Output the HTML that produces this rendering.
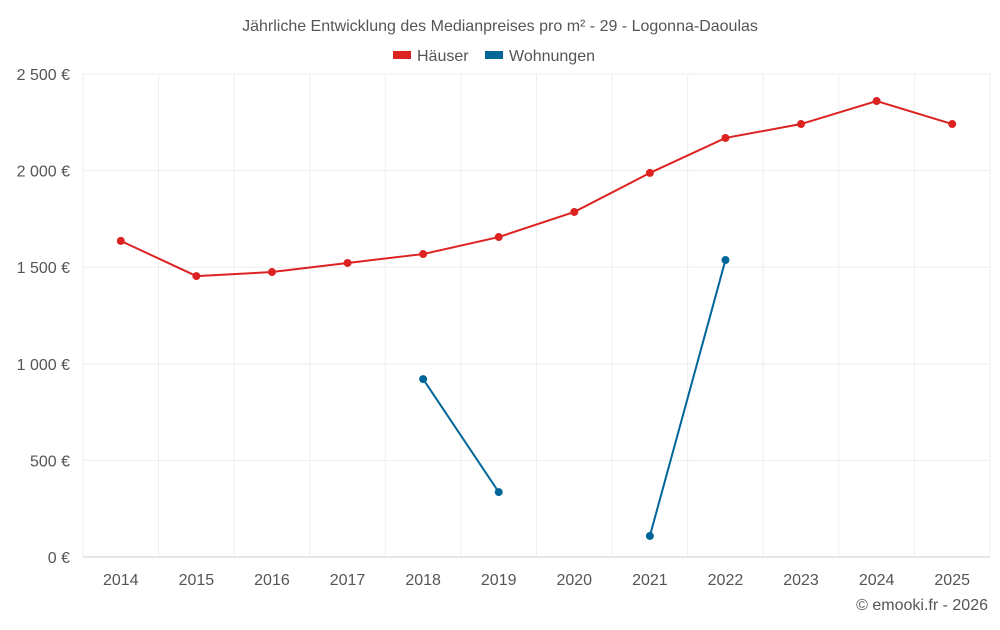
<!DOCTYPE html>
<html><head><meta charset="utf-8"><style>
body{margin:0;background:#fff;font-family:"Liberation Sans",sans-serif}
svg text{font-family:"Liberation Sans",sans-serif;fill:#555}
</style></head><body>
<svg id="c" width="1000" height="625">
<text x="500" y="31" text-anchor="middle" font-size="16">Jährliche Entwicklung des Medianpreises pro m² - 29 - Logonna-Daoulas</text>
<g><rect x="393" y="51" width="18" height="8" fill="#dd2222"/><text x="417" y="61" font-size="16">Häuser</text></g>
<g><rect x="485" y="51" width="18" height="8" fill="#006699"/><text x="509" y="61" font-size="16">Wohnungen</text></g>
<g id="grid"></g><g id="axes"></g><g id="series"></g>
<text x="988" y="610" text-anchor="end" font-size="16">© emooki.fr - 2026</text>
</svg>
<script>
const years=[2014,2015,2016,2017,2018,2019,2020,2021,2022,2023,2024,2025];
const haeuser=[1636,1454,1475,1522,1568,1656,1786,1988,2169,2241,2360,2241];
const wohnungen=[null,null,null,null,921,336,null,109,1537,null,null,null];
const yTicks=[0,500,1000,1500,2000,2500];
const yLabels=["0 €","500 €","1 000 €","1 500 €","2 000 €","2 500 €"];
const L=83,R=990,T=74,B=557,ns="http://www.w3.org/2000/svg";
const bw=(R-L)/years.length;
const x=i=>L+bw*(i+0.5), y=v=>B-(v/2500)*(B-T);
function mk(t,a,p){const e=document.createElementNS(ns,t);for(const k in a)e.setAttribute(k,a[k]);p.appendChild(e);return e;}
const g=document.getElementById('grid'),ax=document.getElementById('axes'),s=document.getElementById('series');
yTicks.forEach((v,i)=>{const l=mk('line',{x1:L,x2:R,y1:y(v),y2:y(v),stroke:i==0?'#ccc':'#eee'},g);


const t=mk('text',{x:70,y:y(v)+6,'text-anchor':'end','font-size':16},ax);t.textContent=yLabels[i];

});
for(let i=0;i<=years.length;i++){const l=mk('line',{x1:L+bw*i,x2:L+bw*i,y1:T,y2:B+(i>0?0:0),stroke:'#eee'},g);

}
years.forEach((yr,i)=>{const t=mk('text',{x:x(i),y:585,'text-anchor':'middle','font-size':16},ax);t.textContent=yr;

});
function draw(data,col,name){let seg=[];const segs=[];data.forEach((v,i)=>{if(v==null){if(seg.length)segs.push(seg);seg=[];}else seg.push([x(i),y(v)]);});if(seg.length)segs.push(seg);
segs.forEach(sg=>{const p=mk('polyline',{points:sg.map(q=>q.join(',')).join(' '),fill:'none',stroke:col,'stroke-width':2},s);


sg.forEach(q=>{const c=mk('circle',{cx:q[0],cy:q[1],r:4,fill:col},s);

});});}
draw(haeuser,'#dd2222','haeuser');draw(wohnungen,'#006699','wohnungen');
</script></body></html>
